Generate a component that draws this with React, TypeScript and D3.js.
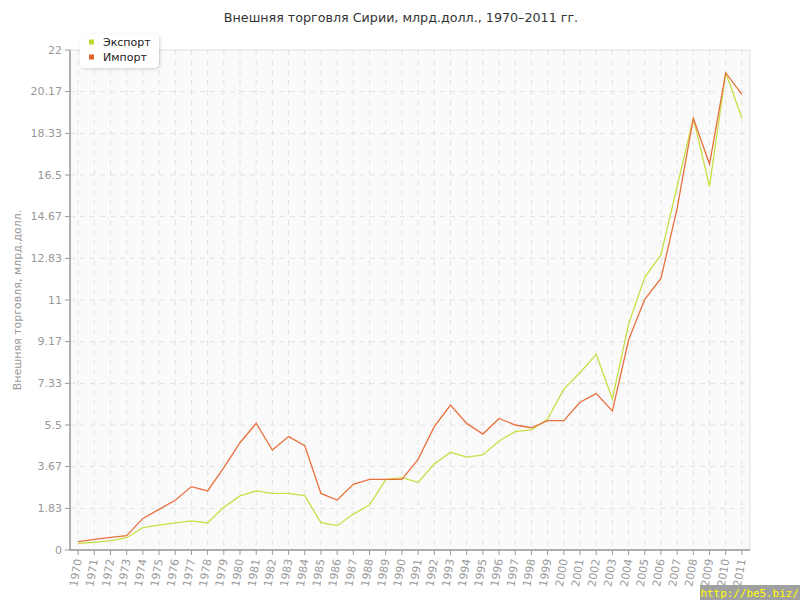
import React from "react";
import * as d3 from "d3";

const years = ["1970","1971","1972","1973","1974","1975","1976","1977","1978","1979","1980","1981","1982","1983","1984","1985","1986","1987","1988","1989","1990","1991","1992","1993","1994","1995","1996","1997","1998","1999","2000","2001","2002","2003","2004","2005","2006","2007","2008","2009","2010","2011"];
const exportValues = [0.29,0.34,0.41,0.54,0.98,1.09,1.19,1.28,1.19,1.88,2.38,2.60,2.49,2.49,2.39,1.20,1.07,1.58,1.98,3.11,3.18,2.98,3.78,4.30,4.09,4.18,4.80,5.21,5.29,5.76,7.08,7.80,8.61,6.65,9.94,12.0,12.98,16.0,19.0,16.0,21.0,19.0];
const importValues = [0.37,0.47,0.56,0.63,1.39,1.79,2.19,2.79,2.60,3.62,4.72,5.57,4.40,4.99,4.59,2.49,2.20,2.89,3.11,3.11,3.11,3.99,5.43,6.38,5.57,5.10,5.79,5.50,5.38,5.69,5.69,6.50,6.88,6.12,9.24,11.03,11.95,15.03,19.0,16.98,21.0,20.05];
const yTicks = [0,1.83,3.67,5.5,7.33,9.17,11,12.83,14.67,16.5,18.33,20.17,22];
const seriesNames = ["Экспорт","Импорт"];
const title = "Внешняя торговля Сирии, млрд.долл., 1970–2011 гг.";
const yLabel = "Внешняя торговля, млрд.долл.";

const W = 800, H = 600;
const L = 70, R = 750, T = 50, B = 550;
const FONT = "'DejaVu Sans', Verdana, sans-serif";

export default function App() {
  const x = d3.scalePoint<string>().domain(years).range([L, R]).padding(0.5);
  const y = d3.scaleLinear().domain([0, 22]).range([B, T]);
  const line = d3.line<number>().x((_, i) => x(years[i]) as number).y((d) => y(d));
  const expColor = "#c8df44";
  const impColor = "#e8703f";
  return (
    <div style={{ position: "absolute", left: 0, top: 0 }}>
      <svg width={W} height={H} style={{ display: "block", fontFamily: FONT }}>
        <defs>
          <filter id="sh" x="-20%" y="-20%" width="140%" height="160%">
            <feDropShadow dx="1" dy="1" stdDeviation="1.5" floodColor="#000" floodOpacity="0.18" />
          </filter>
        </defs>
        <rect width={W} height={H} fill="#fff" />
        <text x={401} y={22} textAnchor="middle" fontSize={12.7} fill="#333">{title}</text>
        <rect x={L} y={T} width={R - L} height={B - T} fill="#fafafa" stroke="#e0e0e0" />
        {years.map((yr) => (
          <line key={"gx" + yr} x1={x(yr)} x2={x(yr)} y1={T} y2={B} stroke="#e2e2e2" strokeDasharray="5,5" />
        ))}
        {yTicks.slice(1, -1).map((t) => (
          <line key={"gy" + t} x1={L} x2={R} y1={y(t)} y2={y(t)} stroke="#e2e2e2" strokeDasharray="5,5" />
        ))}
        <line x1={L} x2={L} y1={T} y2={B} stroke="#999" strokeWidth={1.5} />
        <line x1={L} x2={R} y1={B} y2={B} stroke="#999" strokeWidth={1.5} />
        {yTicks.map((t) => (
          <g key={"ty" + t}>
            <line x1={L - 5} x2={L} y1={y(t)} y2={y(t)} stroke="#999" />
            <text x={L - 8} y={y(t)} dy="0.35em" textAnchor="end" fontSize={11} fill="#999">{String(t)}</text>
          </g>
        ))}
        {years.map((yr) => (
          <g key={"tx" + yr}>
            <line x1={x(yr)} x2={x(yr)} y1={B} y2={B + 5} stroke="#999" />
            <text transform={`translate(${(x(yr) as number)},${B + 9}) rotate(-80)`} dy="0.35em" textAnchor="end" fontSize={11} fill="#999">{yr}</text>
          </g>
        ))}
        <text transform={`translate(21,${(T + B) / 2}) rotate(-90)`} textAnchor="middle" fontSize={11} fill="#999">{yLabel}</text>
        <path d={line(exportValues) || ""} fill="none" stroke={expColor} strokeWidth={1.3} />
        <path d={line(importValues) || ""} fill="none" stroke={impColor} strokeWidth={1.3} />
        <g filter="url(#sh)">
          <rect x={80} y={34} width={79} height={34} rx={5} fill="#fff" />
        </g>
        {seriesNames.map((n, i) => (
          <g key={n}>
            <rect x={89} y={39.5 + i * 15} width={5} height={5} fill={i === 0 ? "#b8d92a" : "#e0622b"} />
            <text x={103} y={42 + i * 15} dy="0.35em" fontSize={11} fill="#222">{n}</text>
          </g>
        ))}
        <rect x={700} y={585} width={100} height={15} fill="#a0a0a0" />
        <text x={700.5} y={597} fontSize={10.9} fill="#ffff00" fontFamily="'DejaVu Sans Mono', monospace">http://be5.biz/</text>
      </svg>
    </div>
  );
}
